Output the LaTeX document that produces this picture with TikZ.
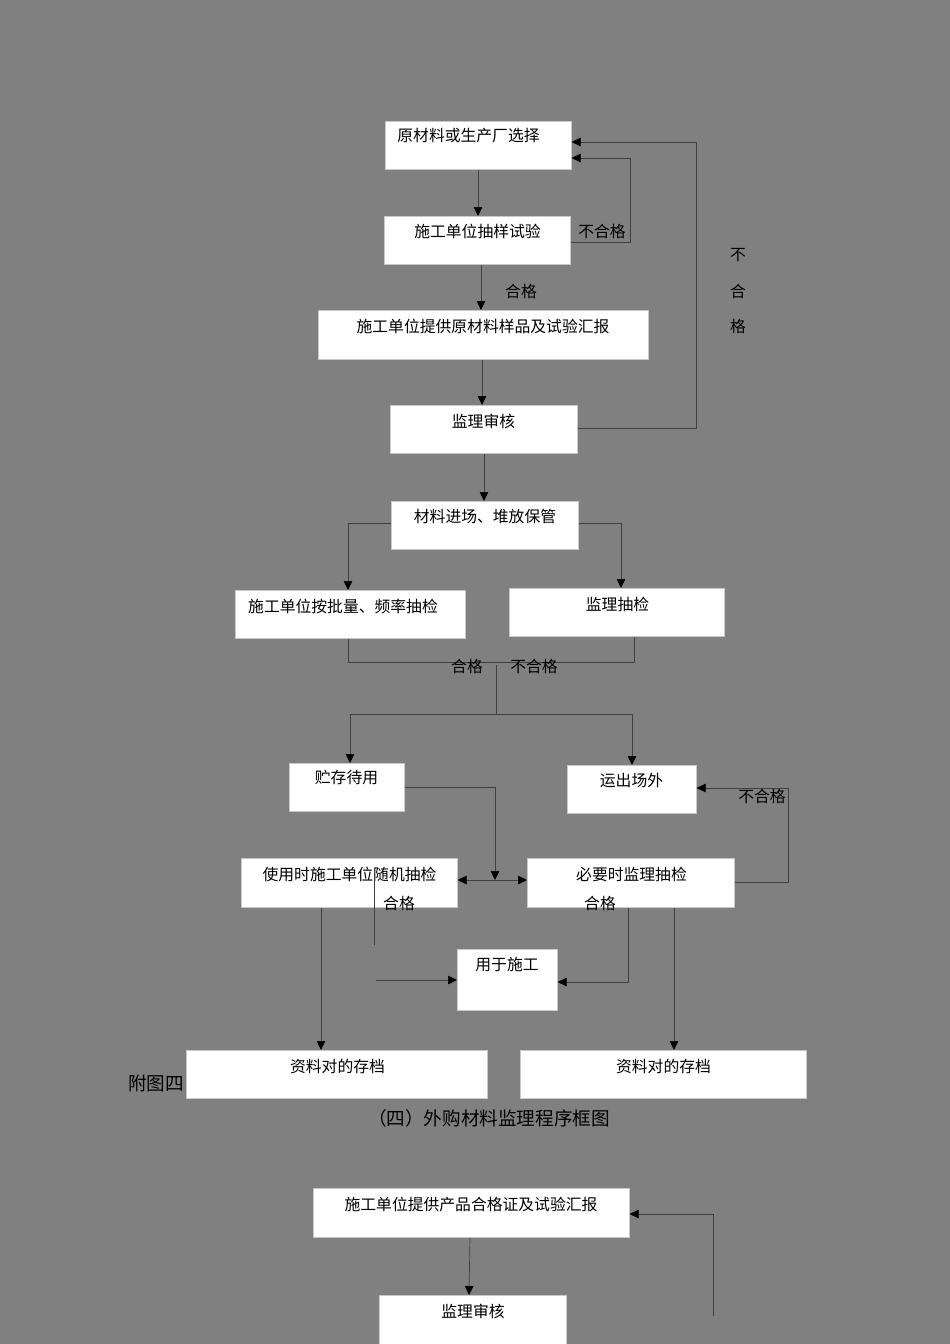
\documentclass[tikz,border=0pt]{standalone}
\usepackage{fontspec}
\newfontfamily\cjk{Noto Sans CJK SC}
\usetikzlibrary{arrows.meta}
\definecolor{bgc}{RGB}{128,128,128}
\definecolor{lnc}{RGB}{64,64,64}
\definecolor{boxline}{RGB}{200,200,200}
\begin{document}
\begin{tikzpicture}[x=1pt,y=-1pt,
  box/.style={draw=boxline, fill=white, line width=0.6pt, inner sep=0pt, anchor=north west},
  txt/.style={font=\cjk\fontsize{15.8}{18}\selectfont, inner sep=0pt, text=black, anchor=center},
  captxt/.style={font=\cjk\fontsize{18.6}{21}\selectfont, inner sep=0pt, text=black, anchor=center},
  ln/.style={draw=lnc, line width=0.7pt},
  arr/.style={ln, -{Triangle[length=9pt,width=8.5pt,color=black]}},
  darr/.style={ln, {Triangle[length=9pt,width=8.5pt,color=black]}-{Triangle[length=9pt,width=8.5pt,color=black]}}]
\fill[bgc] (0,0) rectangle (950,1344);
\useasboundingbox (0,0) rectangle (950,1344);

% boxes
\node[box, minimum width=186pt, minimum height=48pt] (b1) at (385,121) {};
\node[box, minimum width=186pt, minimum height=48pt] (b2) at (384,216) {};
\node[box, minimum width=330pt, minimum height=49pt] (b3) at (318,310) {};
\node[box, minimum width=187pt, minimum height=48pt] (b4) at (390,405) {};
\node[box, minimum width=187pt, minimum height=48pt] (b5) at (391,501) {};
\node[box, minimum width=230pt, minimum height=48pt] (b6) at (235,590) {};
\node[box, minimum width=215pt, minimum height=48pt] (b7) at (509,588) {};
\node[box, minimum width=115pt, minimum height=48pt] (b8) at (289,763) {};
\node[box, minimum width=129pt, minimum height=48pt] (b9) at (567,765) {};
\node[box, minimum width=216pt, minimum height=49pt] (b10) at (241,858) {};
\node[box, minimum width=207pt, minimum height=49pt] (b11) at (527,858) {};
\node[box, minimum width=100pt, minimum height=61pt] (b12) at (457,949) {};
\node[box, minimum width=301pt, minimum height=48pt] (b13) at (186,1050) {};
\node[box, minimum width=286pt, minimum height=48pt] (b14) at (520,1050) {};
\node[box, minimum width=316pt, minimum height=49pt] (b15) at (313,1188) {};
\node[box, minimum width=187pt, minimum height=52pt] (b16) at (379,1295) {};

% box texts
\node[txt] (t1) at (468.5,136) {原材料或生产厂选择};
\node[txt] (t2) at (477.5,231) {施工单位抽样试验};
\node[txt] (t3) at (483,326) {施工单位提供原材料样品及试验汇报};
\node[txt] (t4) at (483.5,421) {监理审核};
\node[txt] (t5) at (485,516) {材料进场、堆放保管};
\node[txt] (t6) at (343,606) {施工单位按批量、频率抽检};
\node[txt] (t7) at (617.5,604) {监理抽检};
\node[txt] (t8) at (346.5,778) {贮存待用};
\node[txt] (t9) at (631.5,781) {运出场外};
\node[txt] (t10) at (349.5,874) {使用时施工单位随机抽检};
\node[txt] (t11) at (631.5,874) {必要时监理抽检};
\node[txt] (t12) at (507,965) {用于施工};
\node[txt] (t13) at (337.5,1066) {资料对的存档};
\node[txt] (t14) at (663.5,1066) {资料对的存档};
\node[txt] (t15) at (471,1204) {施工单位提供产品合格证及试验汇报};
\node[txt] (t16) at (473,1311) {监理审核};

% connectors
\draw[arr] (b1.south -| 478,0) -- (b2.north -| 478,0);
\draw[arr] (b2.south -| 481,0) -- (b3.north -| 481,0);
\draw[arr] (b3.south -| 482,0) -- (b4.north -| 482,0);
\draw[arr] (b2.east |- 0,242) -| (630,158) -- (b1.east |- 0,158);
\draw[arr] (b4.east |- 0,428) -| (696,142) -- (b1.east |- 0,142);
\draw[arr] (b4.south -| 484,0) -- (b5.north -| 484,0);
\draw[arr] (b5.west |- 0,523) -| (b6.north -| 348,0);
\draw[arr] (b5.east |- 0,523) -| (b7.north -| 621,0);
\draw[ln] (b6.south -| 348,0) |- (634,662) -- (b7.south -| 634,0);
\coordinate (m1) at (496,665);
\coordinate (m2) at (496,714);
\draw[ln] (m1) -- (m2);
\draw[arr] (m2) -| (b8.north -| 350,0);
\draw[arr] (m2) -| (b9.north -| 632,0);
\coordinate (j1) at (495,880);
\draw[arr] (b8.east |- 0,787) -| (j1);
\draw[darr] (b10.east |- 0,880) -- (b11.west |- 0,880);
\draw[arr] (b11.east |- 0,882) -- (788,882) -- (788,788) -- (b9.east |- 0,788);
\coordinate (g1) at (374,875);
\coordinate (g2) at (374,945);
\draw[ln] (g1) -- (g2);
\coordinate (g3) at (376,980);
\draw[arr] (g3) -- (b12.west |- 0,980);
\draw[arr] (b11.south -| 628,0) |- (b12.east |- 0,982);
\draw[arr] (b10.south -| 321,0) -- (b13.north -| 321,0);
\draw[arr] (b11.south -| 674,0) -- (b14.north -| 674,0);
\draw[arr] (b15.south -| 470,0) -- (b16.north -| 469,0);
\coordinate (r1) at (713,1316);
\draw[arr] (r1) |- (b15.east |- 0,1214);

% labels
\node[txt] (l1) at (521,291) {合格};
\node[txt] (l2) at (602,231) {不合格};
\node[txt] (l3a) at (738,255) {不};
\node[txt] (l3b) at (738,291) {合};
\node[txt] (l3c) at (738,326) {格};
\node[txt] (l4) at (467,666) {合格};
\node[txt] (l5) at (534,666) {不合格};
\node[txt] (l6) at (762,796) {不合格};
\node[txt] (l7) at (399,903) {合格};
\node[txt] (l8) at (600,903) {合格};

% captions
\node[captxt] (c1) at (156,1083) {附图四};
\node[captxt] (c2) at (489,1118) {（四）外购材料监理程序框图};
\end{tikzpicture}
\end{document}
